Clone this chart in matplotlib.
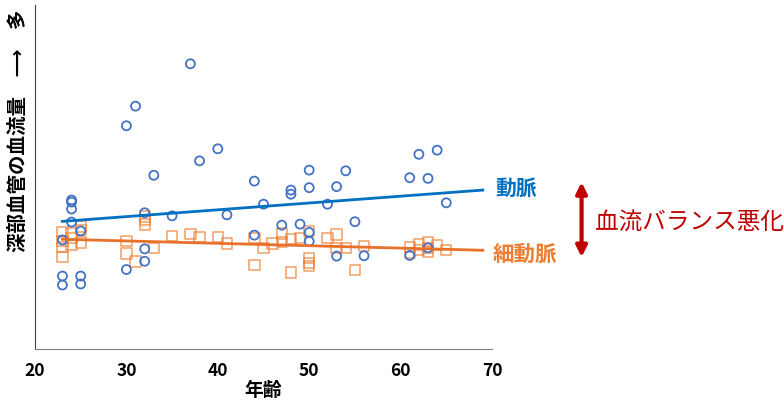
import numpy as np
import matplotlib.pyplot as plt

plt.rcParams['font.family'] = ['Noto Sans CJK JP', 'DejaVu Sans']

# 動脈 (artery) - age and flow (arbitrary units)
artery_age = [23, 23, 23, 24, 24, 24, 24, 25, 25, 25, 30, 30, 31, 32, 32, 32, 33, 35,
              37, 38, 40, 41, 44, 44, 45, 47, 48, 48, 49, 50, 50, 50, 50, 52, 53, 53,
              54, 55, 56, 61, 61, 62, 63, 63, 64, 65]
artery_flow = [31.7, 21.2, 18.6, 43.3, 42.7, 40.7, 36.9, 34.3, 21.2, 18.9, 64.9, 23.1,
               70.6, 39.6, 29.1, 25.5, 50.5, 38.7, 82.9, 54.7, 58.2, 39.0, 48.8, 33.1,
               42.1, 36.0, 46.2, 45.0, 36.3, 52.0, 46.9, 33.9, 31.3, 42.1, 47.2, 27.0,
               51.8, 37.0, 27.1, 49.8, 27.2, 56.6, 49.6, 29.4, 57.8, 42.5]

# 細動脈 (arteriole)
arteriole_age = [23, 23, 23, 23, 24, 24, 24, 25, 25, 25, 30, 30, 31, 32, 32, 32, 33, 35,
                 37, 38, 40, 41, 44, 44, 45, 46, 47, 47, 48, 48, 49, 50, 50, 50, 50, 52,
                 53, 53, 54, 55, 56, 61, 61, 62, 62, 63, 63, 63, 64, 65]
arteriole_flow = [34.1, 31.4, 29.7, 26.8, 33.6, 32.2, 30.2, 35.6, 34.6, 31.0, 31.4, 27.8,
                  25.4, 38.5, 37.5, 36.2, 29.4, 32.8, 33.4, 32.6, 32.6, 30.7, 32.2, 24.4,
                  29.4, 30.7, 33.6, 31.2, 32.0, 22.2, 32.2, 34.3, 26.4, 25.1, 24.1, 32.2,
                  33.3, 29.3, 29.4, 23.0, 29.9, 29.6, 28.0, 30.4, 28.8, 31.2, 29.4, 28.3,
                  30.2, 28.8]

# trend lines (start / end)
trend_age = [23, 69]
artery_trend = [37.1, 46.2]
arteriole_trend = [31.9, 28.7]

BLUE = '#4472C4'
BLUE_LINE = '#0070C0'
ORANGE = '#ED7D31'
RED = '#C00000'

fig = plt.figure(figsize=(7.84, 4.07), dpi=100)
ax = fig.add_axes([35 / 784, 58 / 407, 457 / 784, 344 / 407])

ax.scatter(arteriole_age, arteriole_flow, marker='s', s=55, facecolors='none',
           edgecolors=ORANGE, linewidths=1.1, alpha=0.75, zorder=2)
ax.scatter(artery_age, artery_flow, marker='o', s=42, facecolors='none',
           edgecolors=BLUE, linewidths=1.3, zorder=3)
ax.plot(trend_age, artery_trend, color=BLUE_LINE, lw=2, zorder=4)
ax.plot(trend_age, arteriole_trend, color='#E8702A', lw=2, zorder=4)

ax.set_xlim(20, 70)
ax.set_ylim(0, 100)
ax.set_xticks([20, 30, 40, 50, 60, 70])
ax.set_yticks([])
ax.tick_params(axis='x', length=0, pad=9, labelsize=12.5)
for lab in ax.get_xticklabels():
    lab.set_fontweight('bold')
for s in ['top', 'right']:
    ax.spines[s].set_visible(False)
ax.spines['left'].set_color('#404040')
ax.spines['bottom'].set_color('#808080')

ax.set_xlabel('年齢', fontsize=13.5, fontweight='bold', labelpad=1)
fig.text(18 / 784, 1 - 131 / 407, '深部血管の血流量　⟶　多', rotation=90,
         ha='center', va='center', fontsize=14, fontweight='bold')

# series labels and annotation on the right
ax.text(70.4, 46.8, '動脈', color=BLUE_LINE, fontsize=15, fontweight='bold',
        ha='left', va='center', clip_on=False)
ax.text(70.1, 27.6, '細動脈', color=ORANGE, fontsize=15.5, fontweight='bold',
        ha='left', va='center', clip_on=False)
ax.annotate('', xy=(79.8, 49.3), xytext=(79.8, 25.9),
            arrowprops=dict(arrowstyle='<|-|>', color=RED, lw=3, mutation_scale=16),
            annotation_clip=False)
ax.text(81.3, 36.9, '血流バランス悪化', color=RED, fontsize=17,
        ha='left', va='center', clip_on=False)

fig.savefig('out.png', dpi=100)
